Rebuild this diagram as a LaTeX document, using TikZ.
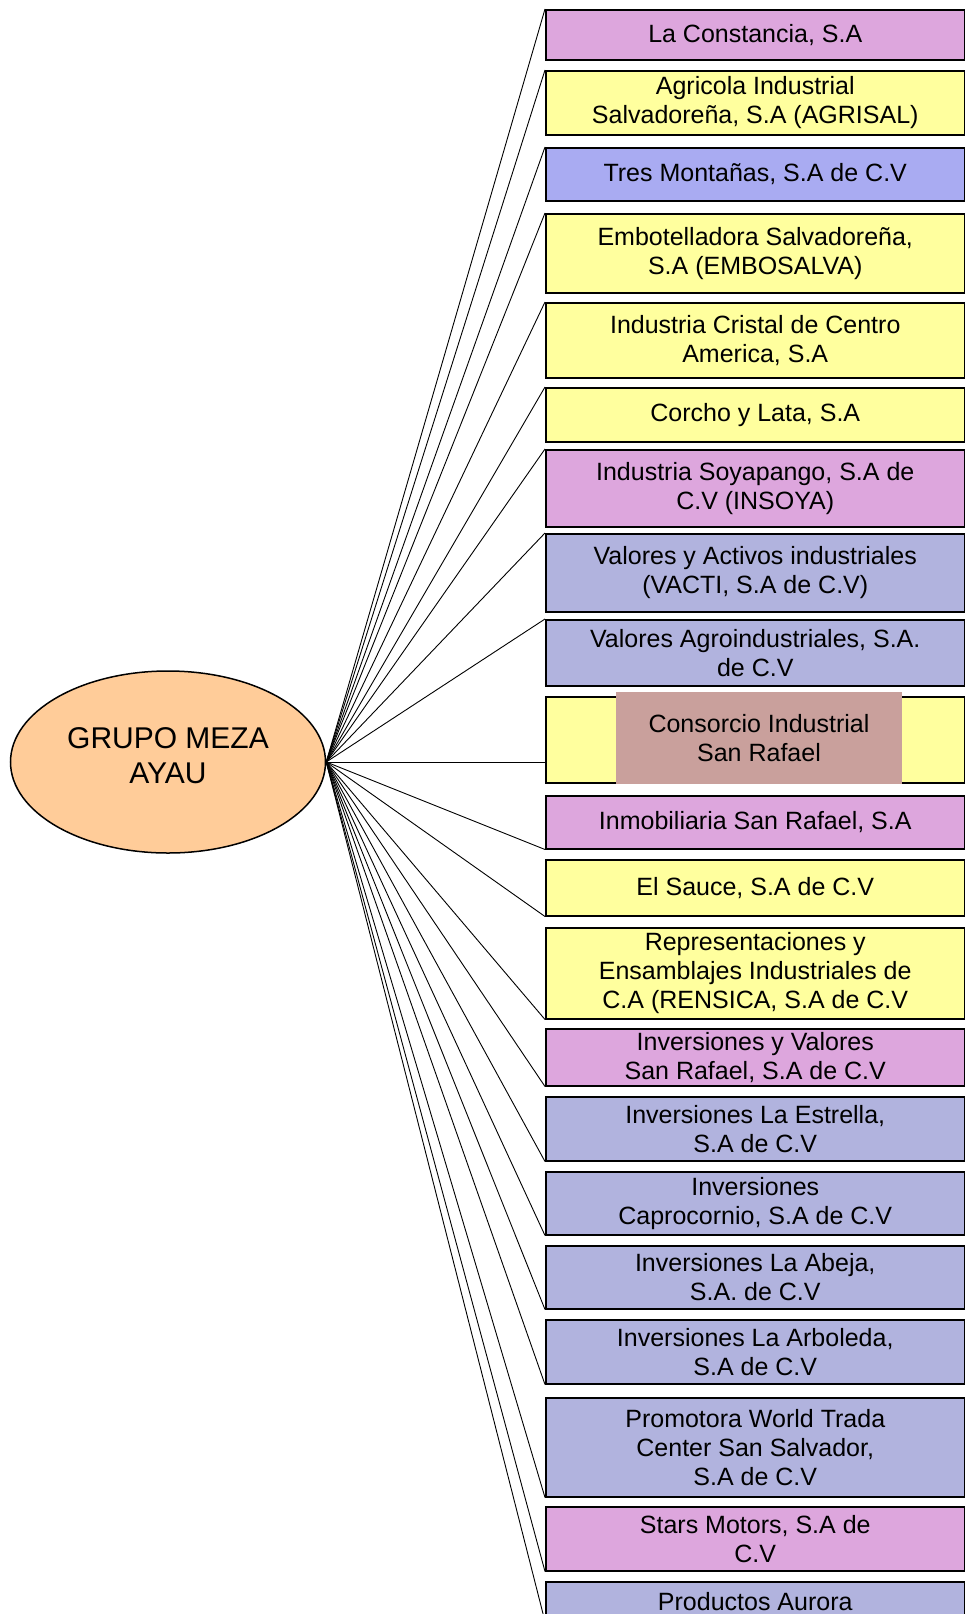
\documentclass[tikz,border=0pt]{standalone}
\usepackage{fontspec}
\setmainfont{Liberation Sans}
\usetikzlibrary{shapes.geometric}
\definecolor{firmpink}{HTML}{DDA6DD}
\definecolor{firmyellow}{HTML}{FFFF9E}
\definecolor{firmblue}{HTML}{A9ABF2}
\definecolor{firmslate}{HTML}{B1B3DE}
\definecolor{firmrose}{HTML}{C9A09C}
\definecolor{grouppeach}{HTML}{FFCC99}

\begin{document}
\begin{tikzpicture}[
  x=1pt,y=-1pt,
  firm/.style={draw,line width=1.5pt,anchor=north west,minimum width=419pt,inner sep=0pt,
    align=center,font=\fontsize{25}{29}\selectfont},
  link/.style={line width=0.9pt}
]
  \useasboundingbox (0,0) rectangle (965,1614);
  \node[draw,ellipse,line width=1.5pt,fill=grouppeach,minimum width=315pt,minimum height=182pt,
    align=center,text depth=12pt,font=\fontsize{30}{35}\selectfont] (grupo) at (168,762) {GRUPO MEZA\\AYAU};
  \node[firm,fill=firmpink,minimum height=50pt] (lacons) at (545,9) {La Constancia, S.A};
  \node[firm,fill=firmyellow,minimum height=64pt] (agrisal) at (545,70) {Agricola Industrial\\Salvadoreña, S.A (AGRISAL)};
  \node[firm,fill=firmblue,minimum height=53pt] (tresmont) at (545,147) {Tres Montañas, S.A de C.V};
  \node[firm,fill=firmyellow,minimum height=79pt] (embosalva) at (545,213) {Embotelladora Salvadoreña,\\S.A (EMBOSALVA)};
  \node[firm,fill=firmyellow,minimum height=75pt] (cristal) at (545,302) {Industria Cristal de Centro\\America, S.A};
  \node[firm,fill=firmyellow,minimum height=54pt] (corcho) at (545,387) {Corcho y Lata, S.A};
  \node[firm,fill=firmpink,minimum height=77pt] (insoya) at (545,449) {Industria Soyapango, S.A de\\C.V (INSOYA)};
  \node[firm,fill=firmslate,minimum height=78pt] (vacti) at (545,533) {Valores y Activos industriales\\(VACTI, S.A de C.V)};
  \node[firm,fill=firmslate,minimum height=66pt] (agroind) at (545,619) {Valores Agroindustriales, S.A.\\de C.V};
  \node[firm,fill=firmyellow,minimum height=86pt] (cons) at (545,696) {};
  \node[fill=firmrose,minimum width=286pt,minimum height=92pt,inner sep=0pt,align=center,
    font=\fontsize{25}{29}\selectfont] (consrose) at (759,738) {Consorcio Industrial\\San Rafael};
  \node[firm,fill=firmpink,minimum height=53pt] (inmob) at (545,795) {Inmobiliaria San Rafael, S.A};
  \node[firm,fill=firmyellow,minimum height=56pt] (sauce) at (545,859) {El Sauce, S.A de C.V};
  \node[firm,fill=firmyellow,minimum height=91pt] (rensica) at (545,927) {Representaciones y\\Ensamblajes Industriales de\\C.A (RENSICA, S.A de C.V};
  \node[firm,fill=firmpink,minimum height=57pt] (invsr) at (545,1028) {Inversiones y Valores\\San Rafael, S.A de C.V};
  \node[firm,fill=firmslate,minimum height=64pt] (estrella) at (545,1096) {Inversiones La Estrella,\\S.A de C.V};
  \node[firm,fill=firmslate,minimum height=63pt] (caprocornio) at (545,1171) {Inversiones\\Caprocornio, S.A de C.V};
  \node[firm,fill=firmslate,minimum height=63pt] (abeja) at (545,1245) {Inversiones La Abeja,\\S.A. de C.V};
  \node[firm,fill=firmslate,minimum height=64pt] (arboleda) at (545,1319) {Inversiones La Arboleda,\\S.A de C.V};
  \node[firm,fill=firmslate,minimum height=99pt] (wtc) at (545,1397) {Promotora World Trada\\Center San Salvador,\\S.A de C.V};
  \node[firm,fill=firmpink,minimum height=64pt] (stars) at (545,1506) {Stars Motors, S.A de\\C.V};
  \node[firm,fill=firmslate,minimum height=39pt] (aurora) at (545,1581) {Productos Aurora};
  \draw[link] (grupo.east) -- (lacons.north west);
  \draw[link] (grupo.east) -- (agrisal.north west);
  \draw[link] (grupo.east) -- (tresmont.north west);
  \draw[link] (grupo.east) -- (embosalva.north west);
  \draw[link] (grupo.east) -- (cristal.north west);
  \draw[link] (grupo.east) -- (corcho.north west);
  \draw[link] (grupo.east) -- (insoya.north west);
  \draw[link] (grupo.east) -- (vacti.north west);
  \draw[link] (grupo.east) -- (agroind.north west);
  \draw[link] (grupo.east) -- (grupo.east -| cons.west);
  \draw[link] (grupo.east) -- (inmob.south west);
  \draw[link] (grupo.east) -- (sauce.south west);
  \draw[link] (grupo.east) -- (rensica.south west);
  \draw[link] (grupo.east) -- (invsr.south west);
  \draw[link] (grupo.east) -- (estrella.south west);
  \draw[link] (grupo.east) -- (caprocornio.south west);
  \draw[link] (grupo.east) -- (abeja.south west);
  \draw[link] (grupo.east) -- (arboleda.south west);
  \draw[link] (grupo.east) -- (wtc.south west);
  \draw[link] (grupo.east) -- (stars.south west);
  \draw[link] (grupo.east) -- (aurora.south west);
\end{tikzpicture}
\end{document}
